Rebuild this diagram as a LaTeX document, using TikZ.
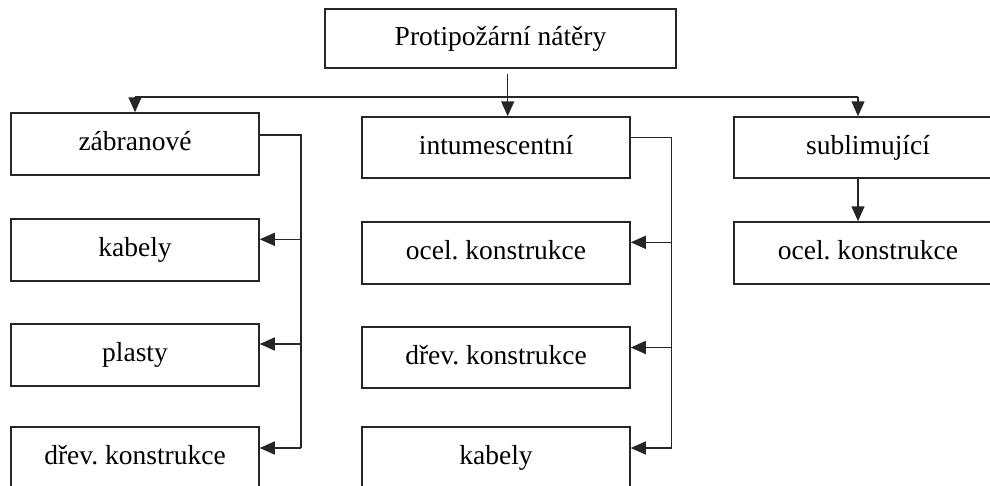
\documentclass[tikz,border=0pt]{standalone}
\usepackage{fontspec}
\setmainfont{Liberation Serif}
\frenchspacing
\usetikzlibrary{arrows.meta,calc}
\begin{document}
\begin{tikzpicture}[x=1pt,y=-1pt,
  box/.style={draw=black!85,line width=1.5pt,rectangle,inner sep=0pt,
    font=\fontsize{27.5}{33}\selectfont,text height=19pt,text depth=6pt,
    minimum height=62pt},
  lbox/.style={box,minimum width=248pt},
  mbox/.style={box,minimum width=268pt},
  conn/.style={draw=black!85,line width=1.5pt},
  arr/.style={conn,-{Triangle[length=15pt,width=13pt]}}]
\useasboundingbox (0,0) rectangle (990,485);
\clip (0,0) rectangle (990,485);
\node[box,minimum width=351pt,minimum height=59pt] (top) at (500.5,38.5) {Protipožární nátěry};
\node[lbox] (zab) at (135,144) {zábranové};
\node[lbox] (lk) at (135,250) {kabely};
\node[lbox] (lp) at (135,355) {plasty};
\node[lbox] (ld) at (135,458) {dřev. konstrukce};
\node[mbox,minimum height=61pt] (int) at (496,147.5) {intumescentní};
\node[mbox] (mo) at (496,253) {ocel. konstrukce};
\node[mbox,minimum height=61pt] (md) at (496,357.5) {dřev. konstrukce};
\node[mbox] (mk) at (496,458) {kabely};
\node[mbox,minimum height=61pt] (sub) at (868,147.5) {sublimující};
\node[mbox] (ro) at (868,253) {ocel. konstrukce};
% top connectors
\coordinate (t0) at ($(top.south)+(7.2,5)$);
\coordinate (bus) at ($(top.south)+(0,28.2)$);
\draw[arr] (t0) -- (t0 |- int.north);
\draw[conn] (bus -| zab.north) -- (bus -| 858,0);
\draw[arr] (bus -| zab.north) -- (zab.north);
\draw[arr] (bus -| 858,0) -- (858,0 |- sub.north);
\draw[arr] (858,0 |- sub.south) -- (858,0 |- ro.north);
% left column
\coordinate (lx) at (301,0);
\draw[conn] ($(zab.east)+(0,-9)$) -| ($(lx |- ld.east)+(0,-10)$);
\draw[arr] ($(lx |- lk.east)+(0,-10.7)$) -- ($(lk.east)+(0,-10.7)$);
\draw[arr] ($(lx |- lp.east)+(0,-11)$) -- ($(lp.east)+(0,-11)$);
\draw[arr] ($(lx |- ld.east)+(0,-10)$) -- ($(ld.east)+(0,-10)$);
% middle column
\coordinate (mx) at (671.7,0);
\draw[conn] ($(int.east)+(0,-10)$) -| ($(mx |- mk.east)+(0,-10)$);
\draw[arr] ($(mx |- mo.east)+(0,-10.7)$) -- ($(mo.east)+(0,-10.7)$);
\draw[arr] ($(mx |- md.east)+(0,-10)$) -- ($(md.east)+(0,-10)$);
\draw[arr] ($(mx |- mk.east)+(0,-10)$) -- ($(mk.east)+(0,-10)$);
\end{tikzpicture}
\end{document}
